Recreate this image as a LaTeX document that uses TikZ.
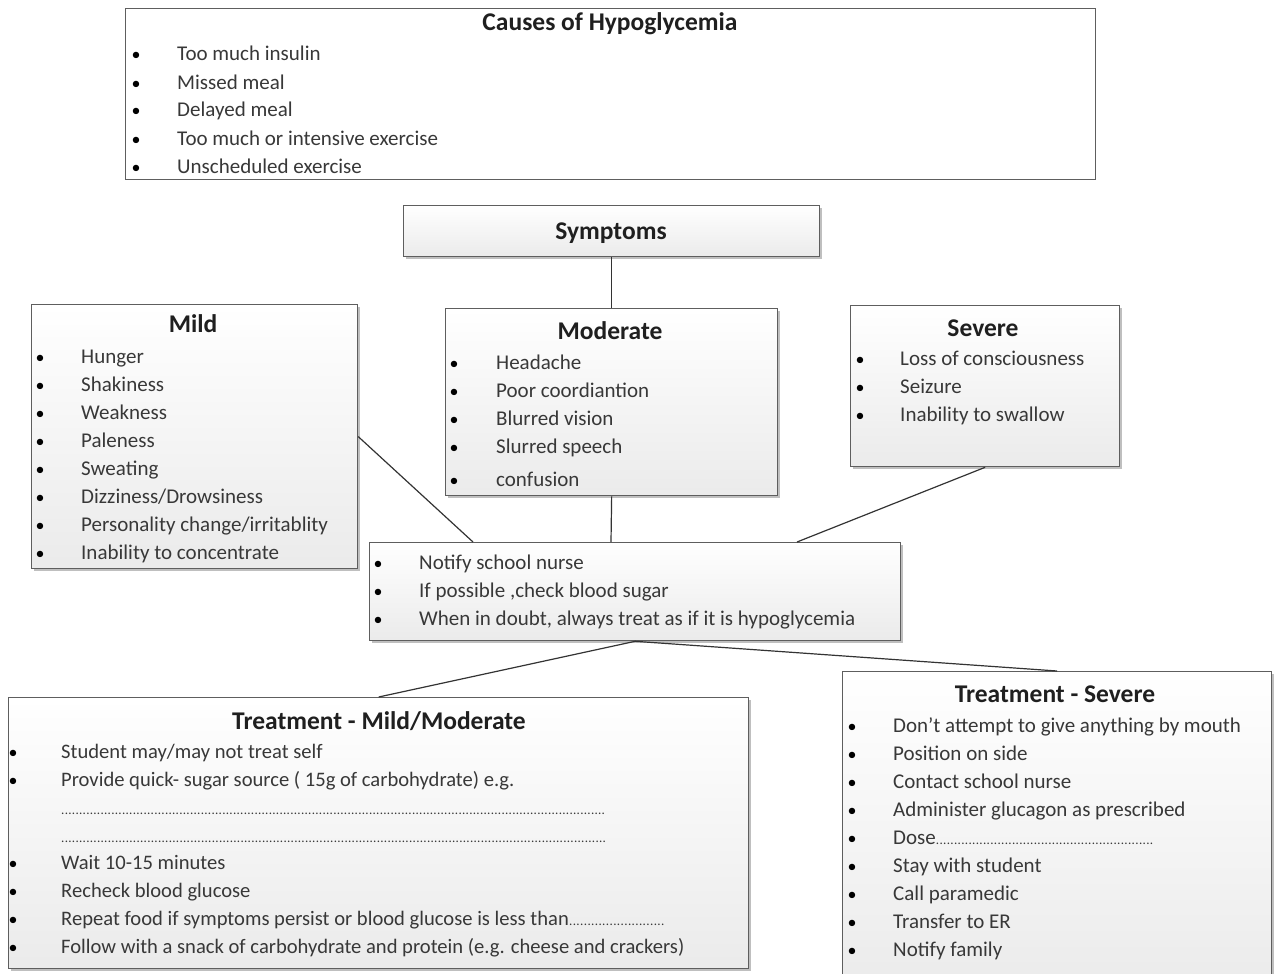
\documentclass[tikz,border=0pt]{standalone}
\usepackage{fontspec}
\setmainfont{Carlito}
\usetikzlibrary{shadows,calc}
\definecolor{edge}{HTML}{5E5E5E}
\definecolor{txt}{HTML}{383838}
\tikzset{
  box/.style={draw=edge, line width=1.3pt, top color=white, bottom color=black!8,
    drop shadow={shadow xshift=2pt, shadow yshift=-2.5pt, opacity=0.25, fill=black},
    anchor=north west, inner sep=0pt},
  plainbox/.style={draw=edge, line width=1.3pt, fill=white, anchor=north west, inner sep=0pt},
  ttl/.style={font=\fontsize{25.5}{25.5}\selectfont\bfseries, text=black!88, anchor=base, inner sep=0pt},
  itm/.style={font=\fontsize{21}{21}\selectfont, text=txt, anchor=base west, inner sep=0pt},
  itms/.style={font=\fontsize{20.6}{20.6}\selectfont, text=txt, anchor=base west, inner sep=0pt},
  bul/.style={font=\fontsize{18}{18}\selectfont, text=black, anchor=base, inner sep=0pt},
  link/.style={draw=black!80, line width=1.2pt}
}
\newcommand\blist[6][itm]{%
  \foreach \t [count=\i from 0] in {#6} {
    \node[bul] (#2b\i) at (#3, #5+28*\i) {•};
    \node[#1] (#2t\i) at (#4, #5+28*\i) {\t};
  }}
\newcommand\dotrow[1]{\hbox to #1{\xleaders\hbox{\fontsize{13}{13}\selectfont.\kern0.3pt}\hfill}}
\begin{document}
\begin{tikzpicture}[x=1pt,y=-1pt]
\useasboundingbox (0,0) rectangle (1275,974);
% boxes
\node[plainbox, minimum width=970pt, minimum height=171pt] (causes) at (125,8) {};
\node[box, minimum width=416pt, minimum height=51pt] (symp) at (403,205) {};
\node[box, minimum width=326pt, minimum height=264pt] (mild) at (31,304) {};
\node[box, minimum width=332pt, minimum height=187pt] (mod) at (445,308) {};
\node[box, minimum width=269pt, minimum height=161pt] (sev) at (850,305) {};
\node[box, minimum width=531pt, minimum height=98pt] (notify) at (369,542) {};
\node[box, minimum width=740pt, minimum height=271pt] (tmild) at (8,697) {};
\node[box, minimum width=429pt, minimum height=320pt] (tsev) at (842,671) {};
% connectors
\draw[link] (symp.south) -- (mod.north);
\draw[link] (mild.east) -- ($(notify.north west)+(104pt,0)$);
\draw[link] (mod.south) -- ($(notify.north west)+(242pt,0)$);
\draw[link] (sev.south) -- ($(notify.north west)+(428pt,0)$);
\draw[link] (notify.south) -- (tmild.north);
\draw[link] (notify.south) -- (tsev.north);
% titles
\node[ttl] (causesT) at (610,31) {Causes of Hypoglycemia};
\node[ttl] (sympT) at (611,239) {Symptoms};
\node[ttl] (mildT) at (193,332) {Mild};
\node[ttl] (modT) at (610,339) {Moderate};
\node[ttl] (sevT) at (983,336) {Severe};
\node[ttl] (tmildT) at (379,729) {Treatment - Mild/Moderate};
\node[ttl] (tsevT) at (1055,702) {Treatment - Severe};
% lists
\blist{c}{136}{177}{61}{Too much insulin, Missed meal, Delayed meal, Too much or intensive exercise, Unscheduled exercise}
\blist{m}{40}{81}{363}{Hunger, Shakiness, Weakness, Paleness, Sweating, Dizziness/Drowsiness, Personality change/irritablity, Inability to concentrate}
\blist{o}{454}{496}{369}{Headache, Poor coordiantion, Blurred vision, Slurred speech}
\node[bul] (ob4) at (454,486) {•};
\node[itm] (ot4) at (496,486) {confusion};
\blist{s}{860}{900}{365}{Loss of consciousness, Seizure, Inability to swallow}
\blist{n}{378}{419}{569}{Notify school nurse, {If possible ,check blood sugar}, {When in doubt, always treat as if it is hypoglycemia}}
\blist[itms]{a}{13}{61}{758}{Student may/may not treat self, {Provide quick- sugar source ( 15g of carbohydrate) e.g.}}
\node[itms] (ad1) at (61,814) {\dotrow{545pt}};
\node[itms] (ad2) at (61,842) {\dotrow{546pt}};
\blist[itms]{b}{13}{61}{869}{Wait 10-15 minutes, Recheck blood glucose, Repeat food if symptoms persist or blood glucose is less than\dotrow{96pt}, {Follow with a snack of carbohydrate and protein (e.g. cheese and crackers)}}
\blist{t}{852}{893}{732}{Don’t attempt to give anything by mouth, Position on side, Contact school nurse, Administer glucagon as prescribed, Dose\dotrow{218pt}, Stay with student, Call paramedic, Transfer to ER, Notify family}
\end{tikzpicture}
\end{document}
